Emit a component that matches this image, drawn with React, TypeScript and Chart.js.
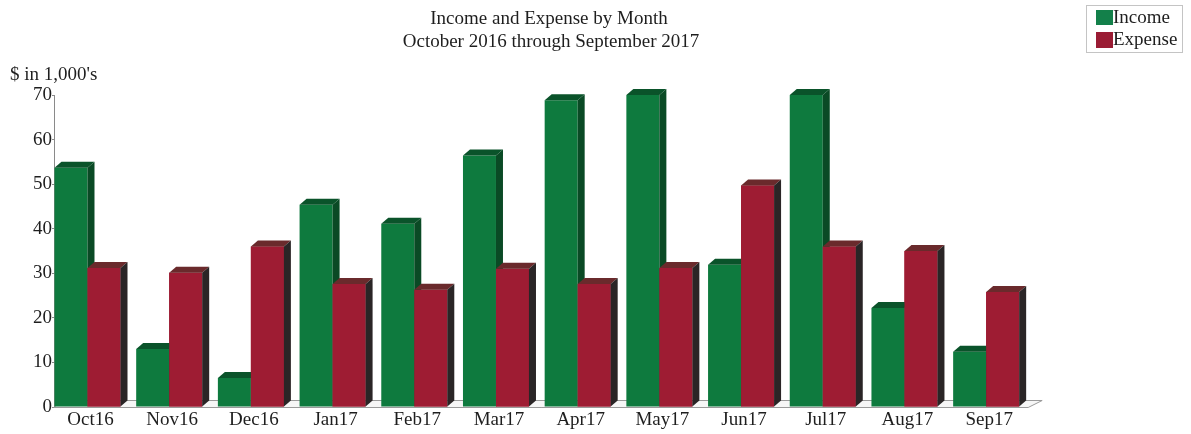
import React, { useEffect, useRef } from "react";
import { Chart, registerables } from "chart.js";

Chart.register(...registerables);

const categories = ["Oct16", "Nov16", "Dec16", "Jan17", "Feb17", "Mar17", "Apr17", "May17", "Jun17", "Jul17", "Aug17", "Sep17"];
const incomeValues = [53.7, 13.0, 6.5, 45.4, 41.1, 56.4, 68.8, 70.0, 31.9, 70.0, 22.2, 12.4];
const expenseValues = [31.2, 30.1, 36.0, 27.6, 26.3, 31.0, 27.6, 31.2, 49.7, 36.0, 35.0, 25.8];
const seriesNames = ["Income", "Expense"];
const titleLines = ["Income and Expense by Month", "October 2016 through September 2017"];
const yAxisTitle = "$ in 1,000's";
const yMin = 0;
const yMax = 70;
const yStep = 10;

const FONT = '"Liberation Serif", "Times New Roman", serif';
const TEXT = "#1e1e1e";
const FRONT = ["#0e7a3e", "#9e1c33"];
const TOP = ["#0a532a", "#6a2a2c"];
const SIDE = ["#0a4a25", "#2a2526"];
const DX = 7;
const DY = 6;

function drawFaces(ctx: any, el: any, idx: number) {
  const { x, y, base, width } = el.getProps(["x", "y", "base", "width"], true);
  const l = x - width / 2;
  const r = x + width / 2;
  ctx.beginPath();
  ctx.moveTo(l, y);
  ctx.lineTo(l + DX, y - DY);
  ctx.lineTo(r + DX, y - DY);
  ctx.lineTo(r, y);
  ctx.closePath();
  ctx.fillStyle = TOP[idx];
  ctx.fill();
  ctx.beginPath();
  ctx.moveTo(r, y);
  ctx.lineTo(r + DX, y - DY);
  ctx.lineTo(r + DX, base - DY);
  ctx.lineTo(r, base);
  ctx.closePath();
  ctx.fillStyle = SIDE[idx];
  ctx.fill();
}

const threeD = {
  id: "threeD",
  beforeDatasetsDraw(chart: any) {
    const { ctx, scales, chartArea } = chart;
    const y0 = scales.y.getPixelForValue(0);
    const m1 = chart.getDatasetMeta(1);
    const last = m1.data[m1.data.length - 1];
    const left = chartArea.left;
    const right = last.x + last.width / 2 + 9;
    ctx.save();
    ctx.beginPath();
    ctx.moveTo(left, y0 + 0.5);
    ctx.lineTo(right, y0 + 0.5);
    ctx.lineTo(right + 14, y0 - 6.5);
    ctx.lineTo(left + DX, y0 - 6.5);
    ctx.closePath();
    ctx.fillStyle = "#f6f6f6";
    ctx.fill();
    ctx.strokeStyle = "#9a9a9a";
    ctx.lineWidth = 1;
    ctx.stroke();
    ctx.restore();
  },
  afterDatasetsDraw(chart: any) {
    const { ctx } = chart;
    const m0 = chart.getDatasetMeta(0);
    const m1 = chart.getDatasetMeta(1);
    ctx.save();
    m0.data.forEach((el: any) => drawFaces(ctx, el, 0));
    m1.data.forEach((el: any) => {
      el.draw(ctx);
      drawFaces(ctx, el, 1);
    });
    ctx.restore();
  },
  afterDraw(chart: any) {
    const { ctx } = chart;
    ctx.save();
    ctx.fillStyle = TEXT;
    ctx.font = `19px ${FONT}`;
    ctx.textAlign = "center";
    ctx.textBaseline = "middle";
    ctx.fillText(titleLines[0], 549, 19);
    ctx.fillText(titleLines[1], 551, 42);
    ctx.textAlign = "left";
    ctx.fillText(yAxisTitle, 10, 75);
    ctx.strokeStyle = "#c4c4c4";
    ctx.lineWidth = 1;
    ctx.strokeRect(1086.5, 5.5, 96, 47);
    ctx.fillStyle = "#13804a";
    ctx.fillRect(1096, 10, 17, 15);
    ctx.fillStyle = "#9a1c34";
    ctx.fillRect(1096, 32, 17, 16);
    ctx.fillStyle = TEXT;
    ctx.fillText(seriesNames[0], 1113, 18);
    ctx.fillText(seriesNames[1], 1113, 40);
    ctx.restore();
  },
};

export default function App() {
  const ref = useRef<HTMLCanvasElement>(null);
  useEffect(() => {
    if (!ref.current) return;
    const chart = new Chart(ref.current, {
      type: "bar",
      data: {
        datasets: [
          { label: seriesNames[0], data: incomeValues.map((v, i) => ({ x: i, y: v })), backgroundColor: FRONT[0], borderWidth: 0 },
          { label: seriesNames[1], data: expenseValues.map((v, i) => ({ x: i, y: v })), backgroundColor: FRONT[1], borderWidth: 0 },
        ],
      },
      options: {
        animation: false,
        responsive: true,
        maintainAspectRatio: false,
        datasets: { bar: { categoryPercentage: 0.808, barPercentage: 1.0 } },
        layout: { padding: { top: 95, bottom: 2, left: 6.65, right: 164 } },
        plugins: { legend: { display: false }, title: { display: false }, tooltip: { enabled: false } },
        scales: {
          x: {
            type: "linear",
            offset: false,
            min: -0.41,
            max: 11.5,
            grid: { display: false, drawTicks: false, offset: false },
            border: { display: false },
            afterBuildTicks: (s: any) => { s.ticks = categories.map((_, i) => ({ value: i })); },
            ticks: {
              color: TEXT,
              font: { family: FONT, size: 19 },
              padding: 2,
              labelOffset: 3,
              maxRotation: 0,
              autoSkip: false,
              callback: (v: any) => categories[v] ?? "",
            },
            afterFit: (s: any) => { s.height = 25; },
          },
          y: {
            min: yMin,
            max: yMax,
            grid: { display: true, drawOnChartArea: false, drawTicks: true, tickLength: 2, color: "#8a8a8a" },
            border: { display: true, color: "#8a8a8a", width: 1 },
            ticks: { stepSize: yStep, color: TEXT, font: { family: FONT, size: 19 }, padding: 0 },
            afterFit: (s: any) => { s.width = 47.35; },
          },
        },
      },
      plugins: [threeD],
    });
    return () => chart.destroy();
  }, []);
  return (
    <div style={{ position: "absolute", left: 0, top: 0, width: 1191, height: 434, background: "#fff" }}>
      <canvas ref={ref} />
    </div>
  );
}
